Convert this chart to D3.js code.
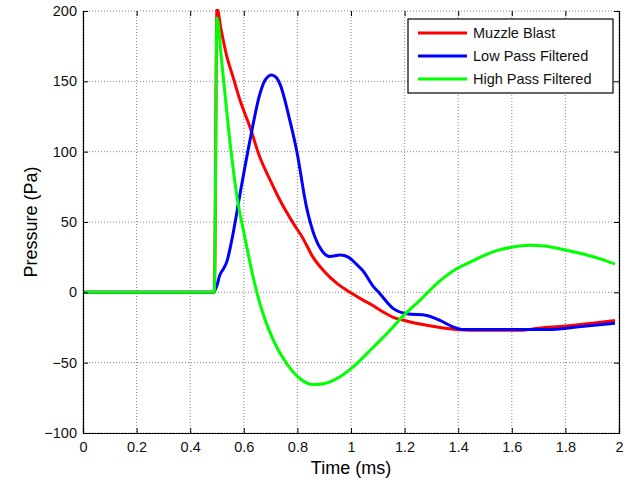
<!DOCTYPE html>
<html><head><meta charset="utf-8">
<script src="https://cdn.jsdelivr.net/npm/d3@7"></script>
<style>body{margin:0;background:#fff}svg{display:block;font-family:Arial,"Liberation Sans",sans-serif}</style>
</head><body><svg id="c" width="627" height="483"></svg>
<script>
const xLabel = "Time (ms)";
const yLabel = "Pressure (Pa)";
const xTicks = [0,0.2,0.4,0.6,0.8,1,1.2,1.4,1.6,1.8,2];
const yTicks = [-100,-50,0,50,100,150,200];
const seriesNames = ["Muzzle Blast","Low Pass Filtered","High Pass Filtered"];
const seriesColors = ["#ff0000","#0000ff","#00ff00"];

const muzzleT = [0,0.49,0.5,0.515,0.535,0.56,0.586,0.623,0.66,0.698,0.735,0.785,0.822,0.858,0.897,0.95,0.996,1.04,1.083,1.12,1.158,1.21,1.257,1.332,1.395,1.45,1.63,1.7,1.8,1.9,1.985];
const muzzleV = [0,0,202,187,169,153,136.5,117.5,96,80,65.5,49,38,25,15.6,6,0,-5,-9.5,-14,-17.8,-20.5,-22.5,-25,-26.5,-27,-27,-25.5,-24,-22,-20];

const lowT = [0,0.486,0.5,0.51,0.525,0.537,0.555,0.586,0.623,0.66,0.68,0.704,0.72,0.735,0.772,0.797,0.834,0.866,0.89,0.92,0.96,0.99,1.02,1.046,1.08,1.108,1.158,1.208,1.283,1.332,1.38,1.418,1.55,1.73,1.85,1.985];
const lowV = [0,0,5,12,17,22,37,70,108,141,151,154.5,153,148,122,101,60.6,39,30,25.5,26.5,25,20,15,5,-1,-11.6,-15.2,-16.4,-20,-24.5,-26.5,-26.5,-26.5,-24.5,-22];

const highT = [0,0.49,0.5,0.517,0.549,0.573,0.604,0.63,0.66,0.71,0.76,0.81,0.86,0.897,0.959,1.008,1.083,1.146,1.196,1.257,1.32,1.394,1.45,1.5,1.55,1.6,1.668,1.72,1.79,1.85,1.89,1.95,1.985];
const highV = [0,0,195,165,106,70,39,15,-8,-34,-50.7,-61.4,-65.6,-65,-60,-53,-39,-27,-16.4,-5.7,6.2,16.8,22,26.5,30,32,33.4,33,30.5,28,26,22.5,20];

const svg = d3.select("#c");
const L=83,R=619,T=11,B=433;
const x = d3.scaleLinear().domain([0,2]).range([L,R]);
const y = d3.scaleLinear().domain([-100,200]).range([B,T]);

svg.append("defs").append("clipPath").attr("id","pc").append("rect").attr("x",L).attr("y",T-2).attr("width",R-L).attr("height",B-T+2);

// grid
const g = svg.append("g");
g.selectAll(".gx").data(xTicks).join("line").attr("x1",d=>x(d)).attr("x2",d=>x(d)).attr("y1",T).attr("y2",B)
 .attr("stroke","#666").attr("stroke-width",0.8).attr("stroke-dasharray","1,2");
g.selectAll(".gy").data(yTicks).join("line").attr("y1",d=>y(d)).attr("y2",d=>y(d)).attr("x1",L).attr("x2",R)
 .attr("stroke","#666").attr("stroke-width",0.8).attr("stroke-dasharray","1,2");

// lines
const lineGen = d3.line().x(d=>x(d[0])).y(d=>y(d[1])).curve(d3.curveMonotoneX);
const data = [d3.zip(muzzleT,muzzleV), d3.zip(lowT,lowV), d3.zip(highT,highV)];
const pg = svg.append("g").attr("clip-path","url(#pc)");
data.forEach((s,i)=>{
  pg.append("path").datum(s).attr("d",lineGen).attr("fill","none").attr("stroke",seriesColors[i]).attr("stroke-width",3).attr("stroke-linejoin","round");
});

// axes
const xa = svg.append("g").attr("transform",`translate(0,${B})`).call(d3.axisBottom(x).tickValues(xTicks).tickFormat(d3.format("")).tickSize(-5).tickPadding(6));
const xt = svg.append("g").attr("transform",`translate(0,${T})`).call(d3.axisTop(x).tickValues(xTicks).tickFormat("").tickSize(-5));
const ya = svg.append("g").attr("transform",`translate(${L},0)`).call(d3.axisLeft(y).tickValues(yTicks).tickFormat(d3.format("")).tickSize(-5).tickPadding(6));
const yr = svg.append("g").attr("transform",`translate(${R},0)`).call(d3.axisRight(y).tickValues(yTicks).tickFormat("").tickSize(-5));
[xa,xt,ya,yr].forEach(a=>{a.selectAll("path.domain").attr("stroke","#000").attr("stroke-width",1.2);a.selectAll(".tick line").attr("stroke","#000");
  a.selectAll("text").attr("font-size",14.5).attr("fill","#111").attr("font-family","Arial, 'Liberation Sans', sans-serif");});
xt.select("path.domain").remove();
xa.selectAll("text").attr("dy","0.9em");

svg.append("text").attr("x",(L+R)/2).attr("y",474).attr("text-anchor","middle").attr("font-size",18).text(xLabel);
svg.append("text").attr("transform",`translate(37,${(T+B)/2}) rotate(-90)`).attr("text-anchor","middle").attr("font-size",18).text(yLabel);

// legend
const lg = svg.append("g");
lg.append("rect").attr("x",408).attr("y",19).attr("width",205).attr("height",74).attr("fill","#fff").attr("stroke","#000").attr("stroke-width",1.2);
seriesNames.forEach((n,i)=>{
  const yy = 33 + i*23;
  lg.append("line").attr("x1",418).attr("x2",467).attr("y1",yy).attr("y2",yy).attr("stroke",seriesColors[i]).attr("stroke-width",3);
  lg.append("text").attr("x",473).attr("y",yy).attr("dy","0.35em").attr("font-size",14.5).attr("fill","#111").text(n);
});
</script></body></html>
